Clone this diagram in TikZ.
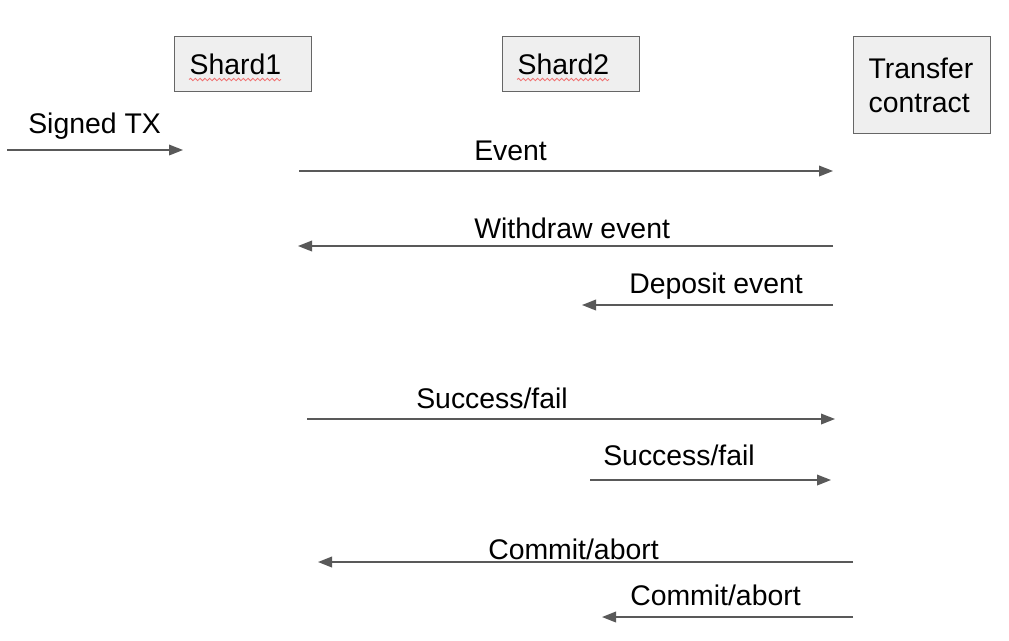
\documentclass[tikz,border=0pt]{standalone}
\usepackage{fontspec}
\setmainfont{Liberation Sans}
\usetikzlibrary{arrows.meta,decorations.pathmorphing}
\definecolor{boxgray}{HTML}{EFEFEF}
\definecolor{edgegray}{HTML}{666666}
\definecolor{arrowgray}{HTML}{595959}
\definecolor{spellred}{HTML}{F07070}

\begin{document}
\begin{tikzpicture}[
    x=0.75pt,y=-0.75pt,
    party/.style={draw=edgegray,fill=boxgray,line width=1pt,anchor=north west,
                  text width=80.25pt,inner xsep=11.25pt,inner ysep=0pt,
                  minimum height=41.25pt,align=left,
                  font=\fontsize{21.3}{25.5}\selectfont},
    arr/.style={-{Triangle[length=10.5pt,width=8pt]},draw=arrowgray,
                line width=1.1pt},
    lbl/.style={anchor=base west,inner sep=0pt,
                font=\fontsize{21.3}{25.5}\selectfont},
    spell/.style={draw=spellred,line width=0.6pt,
                  decorate,decoration={snake,amplitude=0.9pt,segment length=3.6pt}},
  ]
    \useasboundingbox (0,0) rectangle (1009,640);
    \node[party] (shard1) at (174,36) {Shard1};
    \node[party] (shard2) at (502,36) {Shard2};
    \node[party,minimum height=72.75pt] (contract) at (853,36) {Transfer\\contract};
    \draw[spell] (189,79.5) -- (281,79.5);
    \draw[spell] (517,79.5) -- (609,79.5);

    \coordinate (tx0) at (7,150);   \coordinate (tx1) at (183,150);
    \coordinate (ev0) at (299,171); \coordinate (ev1) at (833,171);
    \coordinate (wd0) at (833,246); \coordinate (wd1) at (298,246);
    \coordinate (dp0) at (833,305); \coordinate (dp1) at (582,305);
    \coordinate (sa0) at (307,419); \coordinate (sa1) at (835,419);
    \coordinate (sb0) at (590,480); \coordinate (sb1) at (831,480);
    \coordinate (ca0) at (853,562); \coordinate (ca1) at (318,562);
    \coordinate (cb0) at (853,617); \coordinate (cb1) at (602,617);

    \draw[arr] (tx0) -- (tx1);
    \draw[arr] (ev0) -- (ev1);
    \draw[arr] (wd0) -- (wd1);
    \draw[arr] (dp0) -- (dp1);
    \draw[arr] (sa0) -- (sa1);
    \draw[arr] (sb0) -- (sb1);
    \draw[arr] (ca0) -- (ca1);
    \draw[arr] (cb0) -- (cb1);

    \node[lbl] (txl) at (28,133)  {Signed TX};
    \node[lbl] (evl) at (474,160) {Event};
    \node[lbl] (wdl) at (474,238) {Withdraw event};
    \node[lbl] (dpl) at (629,293) {Deposit event};
    \node[lbl] (sal) at (416,408) {Success/fail};
    \node[lbl] (sbl) at (603,465) {Success/fail};
    \node[lbl] (cal) at (488,559) {Commit/abort};
    \node[lbl] (cbl) at (630,605) {Commit/abort};
  \end{tikzpicture}
\end{document}
